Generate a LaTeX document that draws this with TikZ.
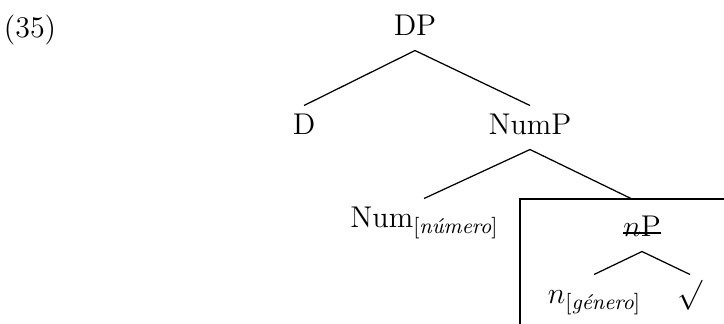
\RequirePackage{fix-cm}
\documentclass[tikz,border=0pt,12pt]{standalone}
\newcommand{\feat}[1]{\raisebox{-2.4pt}{\fontsize{8.6pt}{10pt}\selectfont[\textit{#1}]}}
\begin{document}
\begin{tikzpicture}[
                    x=0.4pt, y=-0.4pt,
                    cat/.style={anchor=base, inner xsep=0pt, inner ysep=3pt,
                                text height=8.2pt, text depth=3pt},
                    branch/.style={line width=0.5pt},
                    strike/.style={line width=0.9pt},
                    frame/.style={line width=0.8pt}
                ]
                \useasboundingbox (0,0) rectangle (724,323);
                \clip (0,0) rectangle (724,323);

                \node[anchor=base, inner sep=0pt] (ex) at (30,37) {(35)};

                \node[cat] (DP)   at (415,35)  {DP};
                \node[cat] (D)    at (304,134) {D};
                \node[cat] (NumP) at (530,134) {NumP};
                \node[cat] (Num)  at (424,227) {Num\feat{n\'umero}};
                \node[cat] (nP)   at (642,236) {$n$P};
                \node[cat] (n)    at (594,303) {$n$\feat{g\'enero}};
                \node[cat] (root) at (690,303) {$\surd$};

                % struck-out label
                \draw[strike] ([yshift=1.3pt]nP.base west) -- ([yshift=1.3pt]nP.base east);

                % box round the lower tree
                \coordinate (corner) at (520,199);
                \coordinate (boxtop) at (632,199);
                \draw[frame] (corner |- 0,330) -- (corner) -- (corner -| 730,0);

                \draw[branch] (DP.south)   -- (D.north);
                \draw[branch] (DP.south)   -- (NumP.north);
                \draw[branch] (NumP.south) -- (Num.north);
                \draw[branch] (NumP.south) -- (boxtop);
                \draw[branch] (nP.south)   -- (n.north);
                \draw[branch] (nP.south)   -- (root.north);

            \end{tikzpicture}
\end{document}
